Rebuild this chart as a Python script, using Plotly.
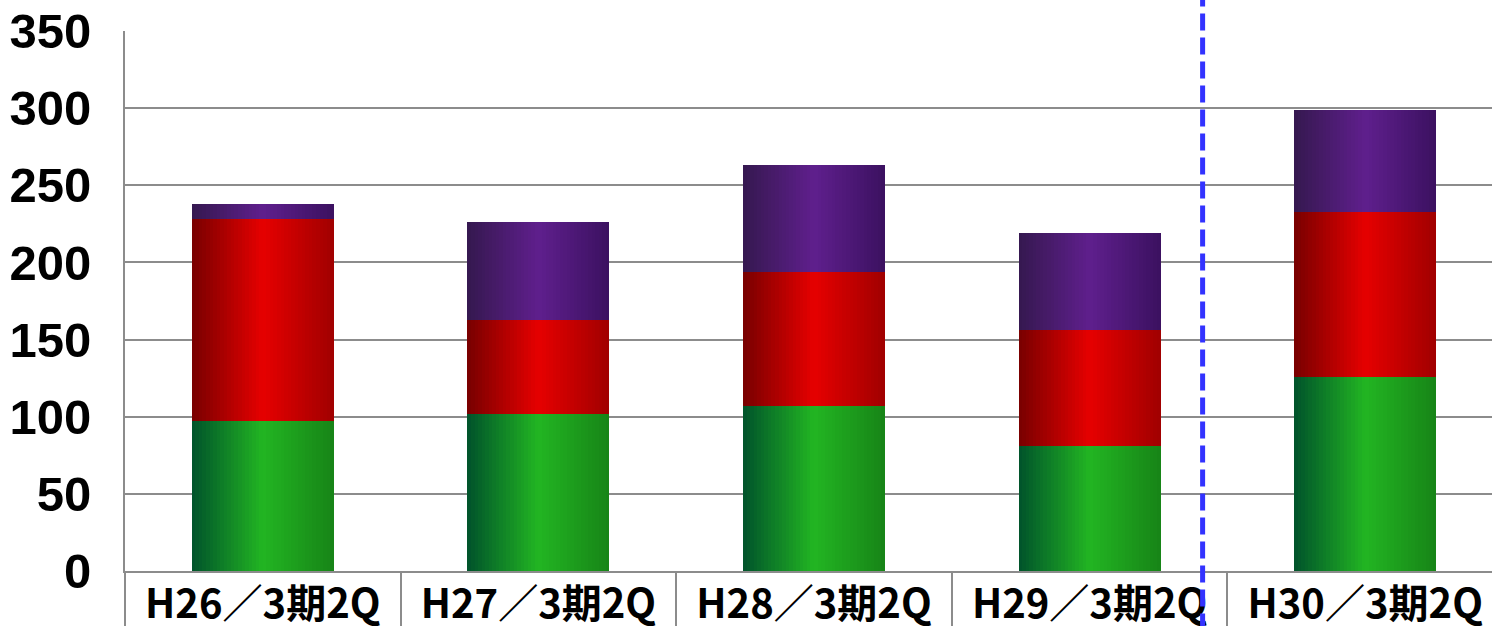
import plotly.graph_objects as go

# ---- data ----
categories = ["H26／3期2Q", "H27／3期2Q", "H28／3期2Q", "H29／3期2Q", "H30／3期2Q"]
green_vals = [97, 102, 107, 81, 126]
red_vals = [131, 61, 87, 75, 107]
purple_vals = [10, 63, 69, 63, 66]
y_tick_vals = [0, 50, 100, 150, 200, 250, 300, 350]
divider_pos = 3.41  # blue dashed separator (category units)

# ---- style ----
BAR_W = 0.515
N_STRIPS = 40
grad_green = ["#00532b", "#22b522", "#178417"]
grad_red = ["#780000", "#e60000", "#a00000"]
grad_purple = ["#35184f", "#5f1f8d", "#3b1160"]


def hex2rgb(h):
    h = h.lstrip("#")
    return [int(h[i:i + 2], 16) for i in (0, 2, 4)]


def interp(stops, t):
    a, b, c = [hex2rgb(s) for s in stops]
    if t <= 0.5:
        u = t / 0.5
        p, q = a, b
    else:
        u = (t - 0.5) / 0.5
        p, q = b, c
    r = [round(p[i] + (q[i] - p[i]) * u) for i in range(3)]
    return "rgb(%d,%d,%d)" % tuple(r)


fig = go.Figure()

segments = [
    (green_vals, [0] * len(green_vals), grad_green),
    (red_vals, green_vals, grad_red),
    (purple_vals, [g + r for g, r in zip(green_vals, red_vals)], grad_purple),
]

sw = BAR_W / N_STRIPS
for vals, bases, stops in segments:
    for k in range(N_STRIPS):
        t = (k + 0.5) / N_STRIPS
        w = sw * 1.3 if k < N_STRIPS - 1 else sw
        fig.add_trace(go.Bar(
            x=categories, y=vals, base=bases,
            width=w, offset=-BAR_W / 2 + k * sw,
            marker=dict(color=interp(stops, t), line=dict(width=0)),
            showlegend=False, hoverinfo="skip",
        ))

fig.add_shape(type="line", xref="x", yref="paper",
              x0=divider_pos, x1=divider_pos, y0=-0.11, y1=1.07,
              line=dict(color="#3333ff", width=5, dash="17px,7px"),
              layer="above")

fig.update_layout(
    width=1492, height=626,
    margin=dict(l=125, r=0, t=31, b=55),
    barmode="overlay",
    plot_bgcolor="white", paper_bgcolor="white",
    bargap=0,
)
fig.update_yaxes(
    range=[0, 350], tickvals=y_tick_vals, automargin=False,
    showgrid=True, gridcolor="#8c8c8c", gridwidth=2,
    showline=True, linecolor="#8c8c8c", linewidth=2,
    zeroline=False, ticks="",
    tickfont=dict(family="Liberation Sans, Arial, sans-serif", size=49, color="black", weight="bold"),
    ticklabelstandoff=22,
)
fig.update_xaxes(
    type="category", range=[-0.5, 4.46], automargin=False,
    showline=True, linecolor="#8c8c8c", linewidth=2,
    ticks="outside", tickson="boundaries", ticklen=60, tickwidth=2, tickcolor="#8c8c8c",
    showgrid=False, zeroline=False,
    tickfont=dict(family="Noto Sans CJK JP", size=40, color="black", weight="bold"),
    ticklabelstandoff=-3,
)

fig.write_html("out.html")
